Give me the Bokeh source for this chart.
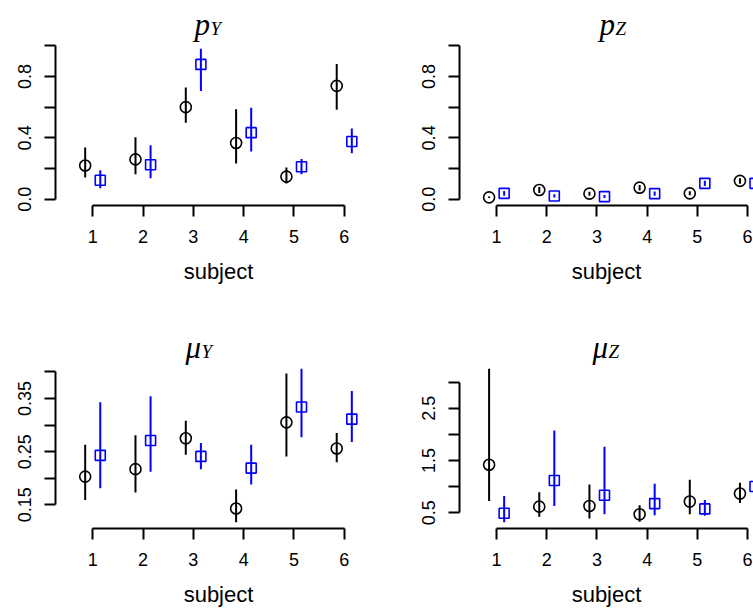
from bokeh.plotting import figure
from bokeh.layouts import column, row
from bokeh.models import Range1d, FixedTicker, Label, ColumnDataSource
from bokeh.embed import file_html
from bokeh.resources import INLINE

subjects = [1, 2, 3, 4, 5, 6]
x_tick_labels = ["1", "2", "3", "4", "5", "6"]
offset = 0.15

# p_Y
pY_black_est = [0.220, 0.260, 0.600, 0.367, 0.148, 0.738]
pY_black_lo = [0.142, 0.164, 0.498, 0.234, 0.103, 0.583]
pY_black_hi = [0.338, 0.404, 0.727, 0.587, 0.207, 0.880]
pY_blue_est = [0.124, 0.225, 0.878, 0.434, 0.212, 0.376]
pY_blue_lo = [0.072, 0.138, 0.705, 0.312, 0.164, 0.300]
pY_blue_hi = [0.190, 0.352, 0.980, 0.596, 0.262, 0.461]

# p_Z
pZ_black_est = [0.013, 0.061, 0.037, 0.076, 0.039, 0.120]
pZ_black_lo = [0.009, 0.042, 0.024, 0.058, 0.026, 0.102]
pZ_black_hi = [0.018, 0.080, 0.050, 0.094, 0.053, 0.138]
pZ_blue_est = [0.039, 0.022, 0.018, 0.037, 0.104, 0.104]
pZ_blue_lo = [0.024, 0.012, 0.008, 0.023, 0.087, 0.087]
pZ_blue_hi = [0.054, 0.034, 0.028, 0.051, 0.121, 0.121]

# mu_Y
mY_black_est = [0.203, 0.217, 0.275, 0.143, 0.305, 0.256]
mY_black_lo = [0.159, 0.173, 0.244, 0.117, 0.241, 0.230]
mY_black_hi = [0.263, 0.281, 0.308, 0.179, 0.397, 0.285]
mY_blue_est = [0.243, 0.271, 0.241, 0.219, 0.334, 0.311]
mY_blue_lo = [0.181, 0.212, 0.217, 0.188, 0.277, 0.268]
mY_blue_hi = [0.343, 0.354, 0.266, 0.263, 0.406, 0.364]

# mu_Z
mZ_black_est = [1.417, 0.615, 0.628, 0.468, 0.712, 0.865]
mZ_black_lo = [0.724, 0.423, 0.390, 0.327, 0.468, 0.686]
mZ_black_hi = [3.256, 0.890, 1.040, 0.641, 1.128, 1.070]
mZ_blue_est = [0.487, 1.115, 0.833, 0.673, 0.571, 1.000]
mZ_blue_lo = [0.314, 0.628, 0.468, 0.449, 0.442, 0.820]
mZ_blue_hi = [0.820, 2.070, 1.760, 1.051, 0.744, 1.200]

# y axis ticks (labelled / unlabelled) per panel
p_ticks_major = [0.0, 0.4, 0.8]
p_ticks_minor = [0.2, 0.6, 1.0]
p_tick_labels = ["0.0", "0.4", "0.8"]
mY_ticks_major = [0.15, 0.25, 0.35]
mY_ticks_minor = [0.20, 0.30, 0.40]
mY_tick_labels = ["0.15", "0.25", "0.35"]
mZ_ticks_major = [0.5, 1.5, 2.5]
mZ_ticks_minor = [1.0, 2.0, 3.0]
mZ_tick_labels = ["0.5", "1.5", "2.5"]

SANS = "Liberation Sans"
SERIF = "Liberation Serif"


def padded(lo, hi):
    a, b = min(lo), max(hi)
    d = (b - a) * 0.04
    return a - d, b + d


def panel(width, height, x_end, ylims, top_gap, bottom_b, right_b,
          bl_est, bl_lo, bl_hi, bu_est, bu_lo, bu_hi,
          yt_major, yt_minor, yt_labels, ybounds):
    # plotting region spans top_gap px below the canvas top; extend the
    # range so the frame reaches the canvas top (room for the title text)
    data_h = height - top_gap - bottom_b
    y0, y1 = ylims
    y_top = y1 + (y1 - y0) * top_gap / data_h
    p = figure(width=width, height=height, output_backend="svg",
               toolbar_location=None, tools="", title=None,
               x_range=Range1d(0.26, x_end), y_range=Range1d(y0, y_top),
               min_border_left=55, min_border_right=right_b,
               min_border_top=0, min_border_bottom=bottom_b)
    p.outline_line_color = None
    p.xgrid.visible = False
    p.ygrid.visible = False
    p.background_fill_color = "white"
    p.border_fill_color = "white"

    xb = [s - offset for s in subjects]
    xu = [s + offset for s in subjects]
    src_b = ColumnDataSource(dict(x=xb, est=bl_est, lo=bl_lo, hi=bl_hi))
    src_u = ColumnDataSource(dict(x=xu, est=bu_est, lo=bu_lo, hi=bu_hi))
    p.segment(x0="x", y0="lo", x1="x", y1="hi", source=src_b,
              line_color="black", line_width=2)
    p.segment(x0="x", y0="lo", x1="x", y1="hi", source=src_u,
              line_color="#0000FF", line_width=2)
    p.scatter(x="x", y="est", source=src_b, marker="circle", size=11,
              fill_alpha=0, line_color="black", line_width=1.6)
    p.scatter(x="x", y="est", source=src_u, marker="square", size=10,
              fill_alpha=0, line_color="#0000FF", line_width=1.6)

    for ax in (p.xaxis[0], p.yaxis[0]):
        ax.axis_line_width = 2
        ax.axis_line_color = "black"
        ax.major_tick_line_width = 2
        ax.major_tick_line_color = "black"
        ax.minor_tick_line_width = 2
        ax.minor_tick_line_color = "black"
        ax.major_tick_out = 11
        ax.major_tick_in = 0
        ax.minor_tick_out = 11
        ax.minor_tick_in = 0
        ax.major_label_text_font = SANS
        ax.major_label_text_font_size = "18px"
        ax.major_label_text_color = "black"
        ax.major_label_standoff = 13

    xa = p.xaxis[0]
    xa.ticker = FixedTicker(ticks=subjects, minor_ticks=[])
    xa.major_label_overrides = {s: l for s, l in zip(subjects, x_tick_labels)}
    xa.bounds = (subjects[0], subjects[-1])
    xa.axis_label = "subject"
    xa.axis_label_text_font = SANS
    xa.axis_label_text_font_size = "22px"
    xa.axis_label_text_font_style = "normal"
    xa.axis_label_text_color = "black"
    xa.axis_label_standoff = 13

    ya = p.yaxis[0]
    ya.ticker = FixedTicker(ticks=yt_major, minor_ticks=yt_minor)
    ya.major_label_overrides = {t: l for t, l in zip(yt_major, yt_labels)}
    ya.major_label_orientation = "vertical"
    ya.bounds = ybounds
    return p


def add_title(p, sym, sub, x, y):
    p.add_layout(Label(x=x, y=y, x_units="screen", y_units="screen", text=sym,
                       text_font=SERIF, text_font_style="italic",
                       text_font_size="31px", text_color="black",
                       text_align="left", text_baseline="alphabetic"))
    p.add_layout(Label(x=x + 16, y=y - 4, x_units="screen", y_units="screen",
                       text=sub, text_font=SERIF, text_font_style="italic",
                       text_font_size="19px", text_color="black",
                       text_align="left", text_baseline="alphabetic"))


p1 = panel(404, 304, 6.74, (-0.04, 1.04), 39, 99, 23,
           pY_black_est, pY_black_lo, pY_black_hi, pY_blue_est, pY_blue_lo, pY_blue_hi,
           p_ticks_major, p_ticks_minor, p_tick_labels, (0.0, 1.0))
p2 = panel(349, 304, 6.12, (-0.04, 1.04), 39, 99, 0,
           pZ_black_est, pZ_black_lo, pZ_black_hi, pZ_blue_est, pZ_blue_lo, pZ_blue_hi,
           p_ticks_major, p_ticks_minor, p_tick_labels, (0.0, 1.0))
p3 = panel(404, 305, 6.74, padded(mY_black_lo + mY_blue_lo, mY_black_hi + mY_blue_hi), 58, 81, 23,
           mY_black_est, mY_black_lo, mY_black_hi, mY_blue_est, mY_blue_lo, mY_blue_hi,
           mY_ticks_major, mY_ticks_minor, mY_tick_labels, (0.15, 0.40))
p4 = panel(349, 305, 6.12, padded(mZ_black_lo + mZ_blue_lo, mZ_black_hi + mZ_blue_hi), 58, 81, 0,
           mZ_black_est, mZ_black_lo, mZ_black_hi, mZ_blue_est, mZ_blue_lo, mZ_blue_hi,
           mZ_ticks_major, mZ_ticks_minor, mZ_tick_labels, (0.5, 3.0))

add_title(p1, "p", "Y", 139, 181.5)
add_title(p2, "p", "Z", 140, 181.5)
add_title(p3, "\u03bc", "Y", 130, 181)
add_title(p4, "\u03bc", "Z", 133, 181)

layout = column(row(p1, p2, spacing=0), row(p3, p4, spacing=0), spacing=0)
open("out.html", "w").write(file_html(layout, INLINE))
